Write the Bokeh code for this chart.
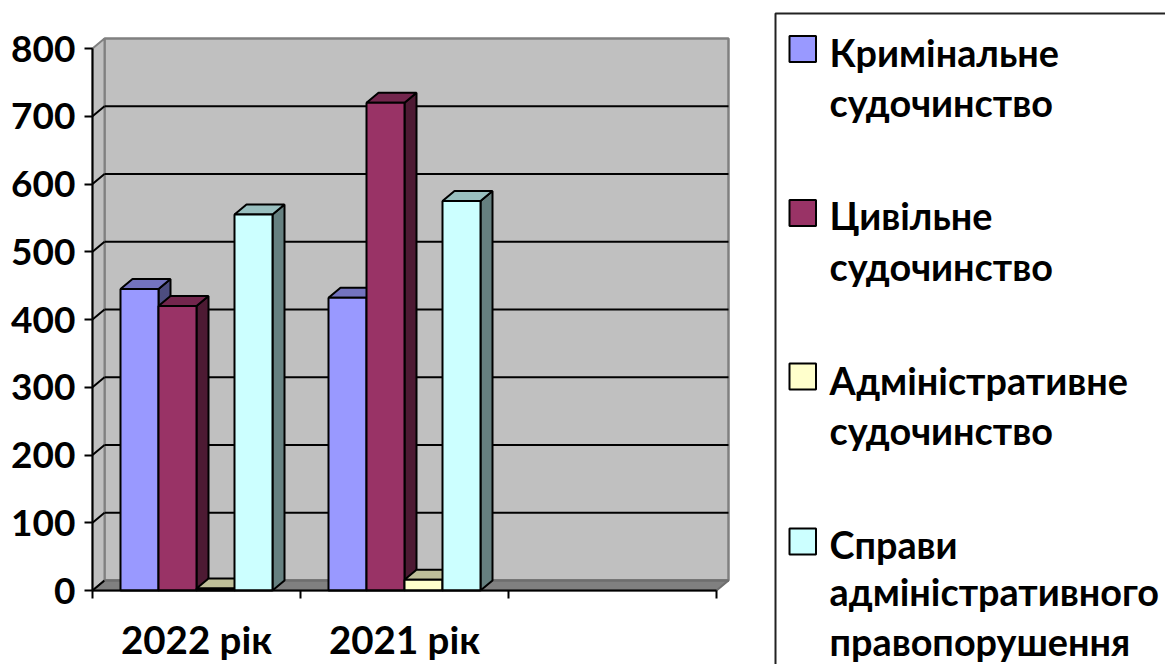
from bokeh.plotting import figure
from bokeh.models import Range1d, LinearAxis, FixedTicker
from bokeh.core.properties import value
from bokeh.embed import file_html
from bokeh.resources import INLINE

categories = ["2022 рік", "2021 рік"]
criminal = [445, 432]
civil = [420, 720]
admin = [3, 16]
offences = [555, 575]
series_names = [["Кримінальне", "судочинство"], ["Цивільне", "судочинство"],
                ["Адміністративне", "судочинство"], ["Справи", "адміністративного", "правопорушення"]]
fronts = ["#9999FF", "#993366", "#FFFFCC", "#CCFFFF"]
tops = ["#7373BF", "#73264D", "#BFBF99", "#99BFBF"]
sides = ["#4D4D80", "#4D1A33", "#808066", "#668080"]
y_ticks = [0, 100, 200, 300, 400, 500, 600, 700, 800]

PX_X, PX_Y = 208.0, 0.6775
DX, DY = 12 / PX_X, 10 / PX_Y
W, H = 1165, 664
LEFT, BOTTOM = 92, 74
NCAT = 3
BW, START = 38 / PX_X, 28 / PX_X

p = figure(width=W, height=H, output_backend="svg", toolbar_location=None,
           x_range=Range1d(-LEFT / PX_X, (W - LEFT) / PX_X), y_range=Range1d(-BOTTOM / PX_Y, (H - BOTTOM) / PX_Y),
           x_axis_location=None, y_axis_location=None,
           min_border_left=0, min_border_bottom=0, min_border_top=0, min_border_right=0)
p.margin = 0
p.grid.visible = False
p.outline_line_color = None
p.extra_x_ranges = {"lx": Range1d(0, W)}
p.extra_y_ranges = {"ly": Range1d(H, 0)}

# walls and floor
p.patch([DX, NCAT + DX, NCAT + DX, DX], [DY, DY, 800 + DY, 800 + DY], fill_color="#C0C0C0", line_color="#808080", line_width=2.5)
p.patch([0, DX, DX, 0], [0, DY, 800 + DY, 800], fill_color="#C0C0C0", line_color="#808080", line_width=2)
p.patch([0, DX, NCAT + DX, NCAT], [0, DY, DY, 0], fill_color="#808080", line_color="#6E6E6E", line_width=2)
for t in y_ticks:
    if t == 800:
        continue
    if t > 0:
        p.line([DX, NCAT + DX], [t + DY, t + DY], line_color="black", line_width=2)
    p.line([0, DX], [t, t + DY], line_color="black", line_width=2)
p.line([DX, NCAT + DX], [DY, DY], line_color="#6E6E6E", line_width=2)

# bars
data = [criminal, civil, admin, offences]
for c in range(len(categories)):
    for s, vals in enumerate(data):
        x0 = c + START + s * BW
        x1 = x0 + BW
        v = vals[c]
        p.patch([x1, x1 + DX, x1 + DX, x1], [0, DY, v + DY, v], fill_color=sides[s], line_color="black", line_width=2)
        p.patch([x0, x0 + DX, x1 + DX, x1], [v, v + DY, v + DY, v], fill_color=tops[s], line_color="black", line_width=2)
        p.patch([x0, x1, x1, x0], [0, 0, v, v], fill_color=fronts[s], line_color="black", line_width=2)

yaxis = LinearAxis(ticker=FixedTicker(ticks=y_ticks), bounds=(0, 800), fixed_location=0)
yaxis.axis_line_color = "black"
yaxis.axis_line_width = 2
yaxis.major_tick_line_width = 2
yaxis.major_tick_line_color = "black"
yaxis.major_tick_out = 8
yaxis.major_tick_in = 0
yaxis.minor_tick_line_color = None
yaxis.major_label_text_font = "Lato"
yaxis.major_label_text_font_style = "bold"
yaxis.major_label_text_font_size = "37px"
yaxis.major_label_text_color = "black"
yaxis.major_label_standoff = 9
p.add_layout(yaxis, "left")

centres = [i + 0.5 for i in range(len(categories))]
xaxis = LinearAxis(ticker=FixedTicker(ticks=centres, minor_ticks=list(range(NCAT + 1))), bounds=(0, NCAT), fixed_location=0)
xaxis.major_label_overrides = {c: n for c, n in zip(centres, categories)}
xaxis.axis_line_color = "black"
xaxis.axis_line_width = 2
xaxis.major_tick_line_color = None
xaxis.minor_tick_line_color = "black"
xaxis.minor_tick_line_width = 2
xaxis.minor_tick_out = 8
xaxis.minor_tick_in = 0
xaxis.major_tick_out = 0
xaxis.major_tick_in = 0
xaxis.major_label_text_font = "Lato"
xaxis.major_label_text_font_style = "bold"
xaxis.major_label_text_font_size = "38.5px"
xaxis.major_label_text_color = "black"
xaxis.major_label_standoff = 17
p.add_layout(xaxis, "below")

# legend panel
LR = dict(x_range_name="lx", y_range_name="ly")
p.line([775, 775, 1175], [675, 13, 13], line_color="#222222", line_width=2, **LR)
swatch_y = [48.5, 212.5, 376, 541]
line_y = [[52, 102], [215, 266], [380, 430], [544, 591, 641]]
for s, names in enumerate(series_names):
    p.quad(left=[789], right=[815.5], top=[swatch_y[s] - 13], bottom=[swatch_y[s] + 13],
           fill_color=fronts[s], line_color="black", line_width=2, **LR)
    p.text(x=[829] * len(names), y=line_y[s], text=names, text_font=value("Lato"), text_font_style="bold",
           text_font_size="37.8px", text_baseline="alphabetic", text_align="left", text_color="black", **LR)

open("out.html", "w").write(file_html(p, INLINE))
